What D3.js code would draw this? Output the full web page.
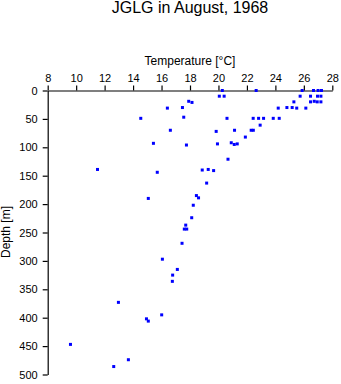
<!DOCTYPE html>
<html><head><meta charset="utf-8">
<script src="https://cdn.jsdelivr.net/npm/d3@7"></script>
<style>
html,body{margin:0;padding:0;background:#fff;}
svg{display:block;font-family:"Liberation Sans",Arial,Helvetica,sans-serif;}
</style></head>
<body>
<svg id="chart" width="341" height="384"></svg>
<script>
const temperature = [22.65,25.88,26.68,27.0,27.24,20.27,
  25.74,26.47,26.96,27.2,20.06,20.4,
  25.3,26.47,26.73,26.94,27.2,17.91,18.14,
  24.2,24.81,25.18,25.5,26.14,16.41,17.47,
  22.44,22.82,23.17,23.85,24.27,20.6,17.56,14.54,
  22.93,21.13,22.3,22.45,19.84,16.62,21.89,
  17.75,19.93,20.9,21.11,21.32,15.43,
  20.67,18.86,19.28,19.66,19.17,15.7,11.5,
  15.07,18.45,18.6,18.23,18.12,17.7,17.6,17.77,17.44,
  16.06,17.11,16.78,16.76,12.97,16.01,14.94,15.07,9.6,13.67,12.64];
const depth = [0,0,0,0,0,0,
  10,10,10,10,10,10,
  20,20,19,20,20,19,21,
  31,30,30,31,31,31,30,
  49,49,49,49,49,49,47,49,
  61,70,70,70,72,70,82,
  96,94,92,95,94,93,
  121,140,139,141,163,144,139,
  190,185,189,202,224,237,244,244,269,
  297,315,325,336,373,395,402,406,447,474,486];
const tempTicks = [8,10,12,14,16,18,20,22,24,26,28];
const depthTicks = [0,50,100,150,200,250,300,350,400,450,500];

const svg = d3.select("#chart");
const x = d3.scaleLinear().domain([8,28]).range([47.7,332.3]);
const y = d3.scaleLinear().domain([0,500]).range([90.5,374.5]);

const xAxis = svg.append("g").attr("transform","translate(0,"+y(0)+")")
  .call(d3.axisTop(x).tickValues(tempTicks).tickSize(5).tickSizeOuter(0).tickPadding(4));
const yAxis = svg.append("g").attr("transform","translate("+x(8)+",0)")
  .call(d3.axisLeft(y).tickValues(depthTicks).tickSize(5).tickSizeOuter(0).tickPadding(5));
[xAxis,yAxis].forEach(a=>{
  a.selectAll("path,line").attr("stroke","#000").attr("stroke-width",1.2);
  a.selectAll("text").attr("fill","#000").style("font-size","11px")
   .style("font-family","'Liberation Sans',Arial,sans-serif");
});

svg.append("g").selectAll("rect").data(temperature.map((t,i)=>[t,depth[i]]))
  .join("rect")
  .attr("x",d=>x(d[0])-1.5).attr("y",d=>y(d[1])-1.5)
  .attr("width",3).attr("height",3).attr("fill","#0000ff");

svg.append("text").attr("x",190).attr("y",13).attr("text-anchor","middle")
  .style("font-size","16px").text("JGLG in August, 1968");
svg.append("text").attr("x",190).attr("y",64.5).attr("text-anchor","middle")
  .style("font-size","12px").text("Temperature [°C]");
svg.append("text").attr("transform","translate(9.5,232) rotate(-90)")
  .attr("text-anchor","middle").style("font-size","12px").text("Depth [m]");
</script>
</body></html>
